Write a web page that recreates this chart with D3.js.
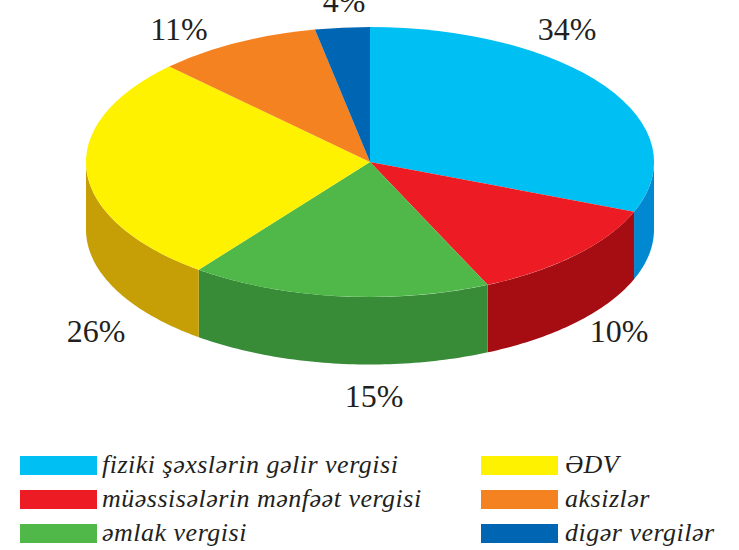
<!DOCTYPE html>
<html>
<head>
<meta charset="utf-8">
<script src="https://cdn.jsdelivr.net/npm/d3@7"></script>
<style>
  html, body { margin: 0; padding: 0; background: #fff; }
  svg { display: block; }
  text { fill: #231f20; font-family: "Liberation Serif", serif; }
</style>
</head>
<body>
<script>
// data
var categories = ["fiziki şəxslərin gəlir vergisi", "müəssisələrin mənfəət vergisi", "əmlak vergisi", "ƏDV", "aksizlər", "digər vergilər"];
var percentLabels = [34, 10, 15, 26, 11, 4];
// the slices in the picture are not drawn to their printed percent, so this is the share each one really covers
var drawnShares = [31.0, 12.2, 17.1, 27.2, 9.4, 3.1];
var topColors = ["#00bff3", "#ed1c24", "#50b848", "#fff200", "#f58220", "#0066b3"];
var sideColors = ["#0089d0", "#a50d12", "#388c38", "#c59f05", "#c0651a", "#004f8c"];

// dimensions
var w = 739;
var h = 550;
var cx = 370;
var cy = 162;
var rx = 284;
var ry = 135;
var depth = 67.5;

// label anchors, same order as the categories
var labelPos = [[567, 40], [619, 342], [374, 407], [96, 342], [179, 40], [344, 12]];

var svg = d3.select("body").append("svg")
    .attr("width", w)
    .attr("height", h);

var pie = d3.pie().sort(null).value(function(d) { return d.share; });
var slices = pie(drawnShares.map(function(s, i) { return {share: s, i: i}; }));

// point on the rim, angle measured clockwise from the top
var ex = d3.scaleLinear().domain([-1, 1]).range([cx - rx, cx + rx]);
var ey = d3.scaleLinear().domain([-1, 1]).range([cy - ry, cy + ry]);

// side wall of a slice, only the front half of the rim is visible
function wallPath(d) {
  var a0 = Math.max(d.startAngle, Math.PI / 2);
  var a1 = Math.min(d.endAngle, Math.PI * 3 / 2);
  if (a1 <= a0) return null;
  var angles = d3.range(0, 61).map(function(k) { return a0 + (a1 - a0) * k / 60; });
  var rim = angles.map(function(a) { return [ex(Math.sin(a)), ey(-Math.cos(a))]; });
  var low = rim.slice().reverse().map(function(p) { return [p[0], p[1] + depth]; });
  return d3.line()(rim.concat(low)) + "Z";
}

svg.append("g").selectAll("path")
    .data(slices.filter(function(d) { return wallPath(d); }))
    .enter()
    .append("path")
    .attr("d", wallPath)
    .attr("fill", function(d) { return sideColors[d.data.i]; });

// top face, unit arc squashed to the ellipse
var arc = d3.arc().innerRadius(0).outerRadius(1);

svg.append("g")
    .attr("transform", "translate(" + cx + "," + cy + ") scale(" + rx + "," + ry + ")")
    .selectAll("path")
    .data(slices)
    .enter()
    .append("path")
    .attr("d", arc)
    .attr("fill", function(d) { return topColors[d.data.i]; });

// percent labels
svg.append("g").selectAll("text")
    .data(percentLabels)
    .enter()
    .append("text")
    .attr("x", function(d, i) { return labelPos[i][0]; })
    .attr("y", function(d, i) { return labelPos[i][1]; })
    .attr("text-anchor", "middle")
    .style("font-size", "32px")
    .text(function(d) { return d + "%"; });

// legend, two columns of three
var legendX = [20, 481];
var legend = svg.append("g").selectAll("g")
    .data(categories)
    .enter()
    .append("g")
    .attr("transform", function(d, i) {
      return "translate(" + legendX[Math.floor(i / 3)] + "," + (456 + (i % 3) * 34) + ")";
    });

legend.append("rect")
    .attr("width", 77)
    .attr("height", 19)
    .attr("fill", function(d, i) { return topColors[i]; });

legend.append("text")
    .attr("x", function(d, i) { return i < 3 ? 82 : 84; })
    .attr("y", 17)
    .style("font-size", "26px")
    .style("letter-spacing", "0.5px")
    .style("font-style", "italic")
    .text(function(d) { return d; });
</script>
</body>
</html>
